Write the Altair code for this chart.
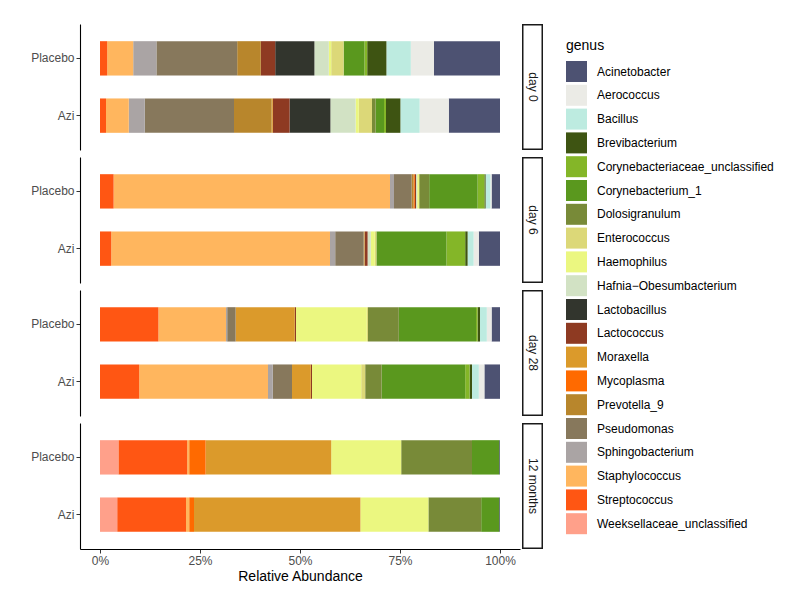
import altair as alt
import pandas as pd

genera = ["Acinetobacter", "Aerococcus", "Bacillus", "Brevibacterium",
          "Corynebacteriaceae_unclassified", "Corynebacterium_1", "Dolosigranulum",
          "Enterococcus", "Haemophilus", "Hafnia\u2212Obesumbacterium", "Lactobacillus",
          "Lactococcus", "Moraxella", "Mycoplasma", "Prevotella_9", "Pseudomonas",
          "Sphingobacterium", "Staphylococcus", "Streptococcus", "Weeksellaceae_unclassified"]
colors = ["#4D5272", "#EBEBE6", "#BDEBE0", "#3E5412", "#84B628", "#5A981E", "#788A38",
          "#DCD878", "#EBF780", "#D2E2C4", "#32352D", "#8E3A22", "#DB9A2B", "#FF6A00",
          "#B8862C", "#87785C", "#AAA4A4", "#FFB65E", "#FF5613", "#FFA08A"]

periods = ["day 0", "day 6", "day 28", "12 months"]
groups = ["Placebo", "Azi"]

# relative abundance (%) in genus (legend) order
day0_placebo = [16.5, 5.8, 6.1, 4.8, 0.7, 5.2, 0, 3.1, 0.6, 3.6, 9.8, 3.6, 0, 0, 5.9, 20.2, 5.8, 6.5, 1.8, 0]
day0_azi = [12.8, 7.3, 4.8, 3.6, 0.5, 2.1, 0.9, 3.3, 0.8, 6.3, 10.2, 4.2, 0.3, 0, 9.4, 22.3, 4.0, 5.7, 1.5, 0]
day6_placebo = [2.1, 0.3, 1.2, 0.3, 1.7, 12.1, 2.5, 0, 0.5, 0.3, 0, 0.3, 0, 0.3, 0.5, 4.4, 1.0, 69.1, 3.4, 0]
day6_azi = [5.3, 1.3, 1.5, 0.6, 4.7, 17.5, 0, 0.4, 1.0, 0.8, 0, 0.7, 0.1, 0, 0.2, 7.1, 1.3, 54.7, 2.8, 0]
day28_placebo = [2.1, 1.2, 1.7, 0.6, 0.4, 19.3, 7.7, 0.3, 17.7, 0, 0, 0.3, 14.8, 0, 0, 2.1, 0.3, 16.9, 14.6, 0]
day28_azi = [3.9, 1.4, 1.7, 0.6, 1.1, 20.9, 4.1, 1.0, 12.3, 0, 0, 0.3, 4.7, 0, 0, 4.8, 1.2, 32.2, 9.8, 0]
m12_placebo = [0.2, 0, 0, 0, 0, 6.8, 17.7, 0, 17.5, 0, 0, 0, 31.4, 4.1, 0, 0, 0, 0.5, 17.2, 4.6]
m12_azi = [0.2, 0, 0, 0, 0, 4.5, 13.2, 0, 17.0, 0, 0, 0, 41.6, 1.2, 0, 0, 0, 0.8, 17.2, 4.3]

series = {
    ("day 0", "Placebo"): day0_placebo, ("day 0", "Azi"): day0_azi,
    ("day 6", "Placebo"): day6_placebo, ("day 6", "Azi"): day6_azi,
    ("day 28", "Placebo"): day28_placebo, ("day 28", "Azi"): day28_azi,
    ("12 months", "Placebo"): m12_placebo, ("12 months", "Azi"): m12_azi,
}

rows = []
for (p, g), vals in series.items():
    for i, (gen, v) in enumerate(zip(genera, vals)):
        if v > 0:
            rows.append({"period": p, "group": g, "genus": gen, "idx": i, "value": v})
df = pd.DataFrame(rows)

PW, PH, SW = 440, 126, 21
FONT = "Liberation Sans"

color = alt.Color(
    "genus:N",
    scale=alt.Scale(domain=genera, range=colors),
    legend=alt.Legend(
        title="genus", orient="none", legendX=486, legendY=15,
        symbolType="square", symbolSize=441, symbolStrokeWidth=0, symbolOpacity=1,
        rowPadding=2.8, labelOffset=10, labelFontSize=12, labelColor="black",
        labelFont=FONT, titleFont=FONT, titleFontSize=14, titleFontWeight="normal",
        titleColor="black", titlePadding=8, labelLimit=300, columns=1,
    ),
)


def panel(p, last):
    d = df[df.period == p]
    if last:
        xaxis = alt.Axis(values=[0, 0.25, 0.5, 0.75, 1], format=".0%", title="Relative Abundance",
                         labelFontSize=12, labelColor="#4D4D4D", labelFont=FONT,
                         titleFontSize=14, titleFontWeight="normal", titleColor="black",
                         titleFont=FONT, titlePadding=3, tickSize=4, tickColor="#333333",
                         domainColor="black", domainWidth=1.1, grid=False, labelPadding=2)
    else:
        xaxis = None
    bars = alt.Chart(d).mark_bar().encode(
        x=alt.X("value:Q", stack="normalize",
                scale=alt.Scale(domain=[-0.05, 1.05], nice=False, zero=False), axis=xaxis),
        y=alt.Y("group:N", sort=groups, scale=alt.Scale(paddingInner=0.4, paddingOuter=0.3),
                axis=alt.Axis(title=None, labelFontSize=12, labelColor="#4D4D4D", labelFont=FONT,
                              tickSize=4, tickColor="#333333", domainColor="black",
                              domainWidth=1.1, labelPadding=2, grid=False)),
        color=color,
        order=alt.Order("idx:Q", sort="descending"),
    ).properties(width=PW, height=PH)
    sdf = pd.DataFrame({"period": [p]})
    box = alt.Chart(sdf).mark_rect(fill="white", stroke="#1A1A1A", strokeWidth=1.5).encode(
        x=alt.value(0.75), x2=alt.value(SW - 0.75), y=alt.value(0.75), y2=alt.value(PH - 0.75))
    txt = alt.Chart(sdf).mark_text(angle=90, fontSize=12, color="#1A1A1A", font=FONT).encode(
        x=alt.value(SW / 2), y=alt.value(PH / 2), text="period:N")
    strip = alt.layer(box, txt).properties(width=SW, height=PH)
    return alt.hconcat(bars, strip, spacing=2)


chart = alt.vconcat(*[panel(p, i == len(periods) - 1) for i, p in enumerate(periods)],
                    spacing=7).properties(
    padding={"left": 22, "top": 16, "right": 0, "bottom": 0}
).configure(font=FONT).configure_view(stroke=None, strokeWidth=0)

chart.save("out.html", embed_options={"renderer": "svg", "actions": False})
